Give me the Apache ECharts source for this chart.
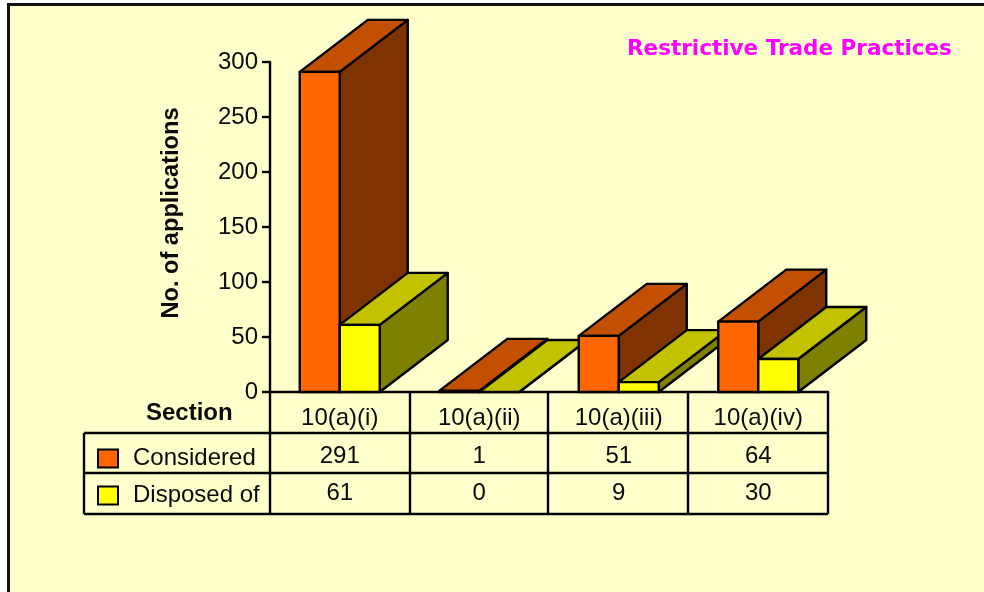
<!DOCTYPE html>
<html><head><meta charset="utf-8">
<style>html,body{margin:0;padding:0;background:#fff}#c{width:984px;height:592px}</style>
<script src="https://cdn.jsdelivr.net/npm/echarts@6/dist/echarts.min.js"></script>
</head><body><div id="c"></div>
<script>
const categories = ['10(a)(i)', '10(a)(ii)', '10(a)(iii)', '10(a)(iv)'];
const considered = [291, 1, 51, 64];
const disposedOf = [61, 0, 9, 30];
const yTicks = [0, 50, 100, 150, 200, 250, 300];

const FONT = '"Liberation Sans", Arial, sans-serif';
const INK = '#0a0a0a';
const LINE = 2.4;
const palettes = [
  { front: '#FF6600', top: '#C25000', side: '#7F3300' },
  { front: '#FFFF00', top: '#C2C200', side: '#808000' }
];
const table = { left: 84, axis: 392, row1: 433, row2: 473, row3: 514, right: 828 };

function barRenderer(seriesIndex, rowCentre) {
  return function (params, api) {
    const i = api.value(0), v = api.value(1);
    const base = api.coord([i, 0]);
    const top = api.coord([i, v]);
    const band = api.size([1, 0])[0];
    const w = band * 0.2867;
    const dx = band * 0.4875, dy = 52;
    const x0 = base[0] - w + seriesIndex * w, x1 = x0 + w;
    const y0 = base[1], y1 = top[1];
    const p = palettes[seriesIndex];
    const z2 = i * 10 + seriesIndex;
    const stroke = { stroke: '#000', lineWidth: LINE, lineJoin: 'round' };
    const poly = (pts, fill) => ({
      type: 'polygon', z2: z2,
      shape: { points: pts },
      style: Object.assign({ fill: fill }, stroke)
    });
    const children = [
      poly([[x1, y0], [x1 + dx, y0 - dy], [x1 + dx, y1 - dy], [x1, y1]], p.side),
      poly([[x0, y1], [x0 + dx, y1 - dy], [x1 + dx, y1 - dy], [x1, y1]], p.top)
    ];
    if (v > 0) children.push(poly([[x0, y0], [x1, y0], [x1, y1], [x0, y1]], p.front));
    children.push({
      type: 'text', z2: 100,
      style: { x: base[0], y: rowCentre, text: String(v), align: 'center', verticalAlign: 'middle',
               fill: INK, font: '24px ' + FONT }
    });
    return { type: 'group', children: children };
  };
}

function seriesOf(name, values, index, rowCentre) {
  return {
    name: name, type: 'custom', z: 3, clip: false,
    silent: true,
    coordinateSystem: 'cartesian2d',
    encode: { x: 0, y: 1 },
    itemStyle: { color: palettes[index].front, borderColor: '#000', borderWidth: LINE },
    renderItem: barRenderer(index, rowCentre),
    data: values.map((v, i) => [i, v])
  };
}

const hLine = (x1, x2, y) => ({ type: 'line', z: 2, shape: { x1, y1: y, x2, y2: y }, style: { stroke: '#000', lineWidth: LINE } });
const vLine = (x, y1, y2) => ({ type: 'line', z: 2, shape: { x1: x, y1, x2: x, y2 }, style: { stroke: '#000', lineWidth: LINE } });

const chart = echarts.init(document.getElementById('c'), null, { renderer: 'canvas' });
chart.setOption({
  animation: false,
  backgroundColor: '#fff',
  textStyle: { fontFamily: FONT },
  grid: { left: 270, right: 156, top: 62, height: 330, containLabel: false },
  title: {
    text: 'Restrictive Trade Practices', left: 622, top: 33,
    textStyle: { color: '#FF00FF', fontFamily: '"DejaVu Sans"', fontWeight: 'bold', fontSize: 21.5 }
  },
  legend: {
    orient: 'vertical', left: 97, top: 446.5, itemWidth: 20, itemHeight: 18, itemGap: 13,
    selectedMode: false, padding: 0, icon: 'rect',
    textStyle: { color: INK, fontFamily: FONT, fontSize: 24, padding: [3, 0, 0, 10] },
    data: ['Considered', 'Disposed of']
  },
  xAxis: {
    type: 'category', data: categories, boundaryGap: true,
    axisLine: { lineStyle: { color: '#000', width: LINE } },
    axisTick: { show: false },
    axisLabel: { color: INK, fontFamily: FONT, fontSize: 24, margin: 14, interval: 0 }
  },
  yAxis: {
    type: 'value', min: 0, max: yTicks[yTicks.length - 1], interval: 50,
    name: 'No. of applications', nameLocation: 'middle', nameGap: 87, nameRotate: 90,
    nameTextStyle: { color: INK, fontFamily: FONT, fontSize: 23.6, fontWeight: 'bold', padding: [0, 0, 0, 28] },
    splitLine: { show: false },
    axisLine: { show: true, lineStyle: { color: '#000', width: LINE } },
    axisTick: { show: true, length: 8, lineStyle: { color: '#000', width: LINE } },
    axisLabel: { color: INK, fontFamily: FONT, fontSize: 24, margin: 12, padding: [4, 0, 0, 0] }
  },
  series: [
    seriesOf('Considered', considered, 0, 456),
    seriesOf('Disposed of', disposedOf, 1, 493)
  ],
  graphic: {
    elements: [
      { type: 'rect', z: -1, shape: { x: 8.5, y: 4.5, width: 1100, height: 800 },
        style: { fill: '#FFFFCC', stroke: '#111', lineWidth: 3 } },
      hLine(table.left, table.right, table.row1),
      hLine(table.left, table.right, table.row2),
      hLine(table.left, table.right, table.row3),
      vLine(table.left, table.row1, table.row3),
      vLine(270, table.axis, table.row3),
      vLine(410, table.axis, table.row3),
      vLine(548, table.axis, table.row3),
      vLine(688, table.axis, table.row3),
      vLine(828, table.axis, table.row3),
      { type: 'text', z: 5, x: 146, y: 401,
        style: { text: 'Section', fill: INK, font: 'bold 24px ' + FONT } }
    ]
  }
});
</script></body></html>
